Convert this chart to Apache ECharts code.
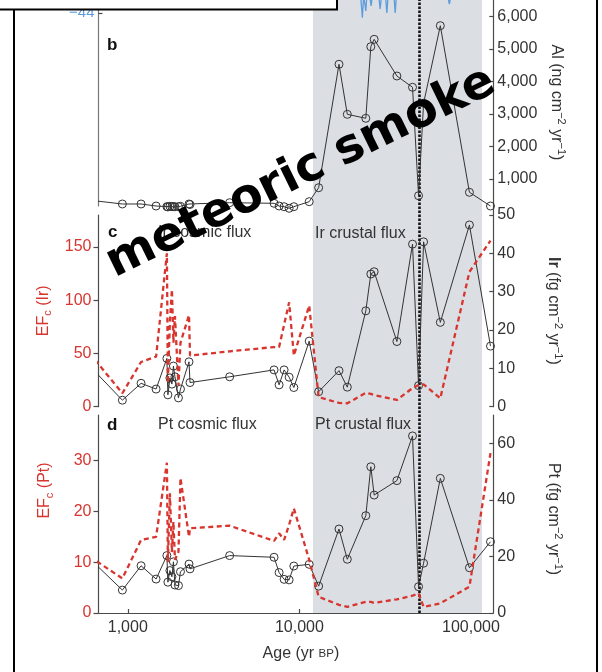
<!DOCTYPE html>
<html>
<head>
<meta charset="utf-8">
<script src="https://cdn.jsdelivr.net/npm/echarts@6/dist/echarts.min.js"></script>
<style>
  html, body { margin: 0; padding: 0; background: #fff; }
  #chart { width: 602px; height: 672px; }
</style>
</head>
<body>
<div id="chart"></div>
<script>
// Sample ages (yr BP) shared by the Al, Ir and Pt records
const ages = [600, 930, 1195, 1462, 1690, 1713, 1760, 1808, 1845, 1883, 1974, 2028, 2274, 2305,
  3924, 7121, 7619, 8150, 8718, 9286, 11410, 12951, 17020, 19030, 24390, 26090, 27280,
  37020, 45660, 49510, 52970, 66310, 98000, 130000];

// Al flux (ng cm-2 yr-1)
const alFlux = [348, 231, 231, 169, 150, 140, 160, 150, 155, 145, 150, 160, 231, 215,
  271, 252, 169, 148, 98, 148, 302, 732, 4530, 2990, 2868, 5071, 5298,
  4169, 3822, 486, 3330, 5717, 591, 169];

// Ir flux (fg cm-2 yr-1) and its crustal enrichment factor
const irFlux = [10.6, 1.7, 6.1, 4.6, 12.6, 3.1, 7.5, 5.9, 10.6, 7.8, 2.3, 4.6, 11.7, 6.3,
  7.8, 9.6, 5.7, 9.6, 7.7, 5.0, 17.1, 3.9, 9.4, 5.1, 25.0, 34.6, 35.2,
  17.0, 42.4, 5.5, 43.0, 22.0, 47.4, 15.8];
const irEF = [50, 12.6, 42, 47, 144, 22, 80, 110, 60, 85, 20, 60, 86, 48,
  52, 56, 56, 77, 98, 48, 95, 9, 3.5, 3.2, 13.1, 12, 11,
  6.3, 17.5, 20.3, 21, 7.9, 126.6, 156];

// Pt flux (fg cm-2 yr-1) and its crustal enrichment factor
const ptFlux = [19.2, 8.1, 16.7, 12.0, 20.3, 10.9, 15.0, 12.8, 18.1, 9.9, 9.7, 14.6, 17.3, 15.6,
  20.3, 19.7, 14.3, 11.9, 11.7, 16.6, 17.2, 9.5, 29.7, 19.0, 34.4, 51.7, 41.7,
  46.8, 62.6, 9.3, 17.6, 47.6, 16.0, 25.2];
const ptEF = [11.1, 6.8, 14.4, 15.0, 29.6, 10, 23.6, 12, 18, 10.5, 12, 26.6, 15.0, 16.7,
  17.2, 14.2, 15.7, 14.4, 17.4, 20.6, 10.5, 3.2, 1.6, 1.2, 2.2, 2.2, 2.0,
  2.7, 3.4, 3.9, 1.2, 1.9, 5.2, 31.5];

// Lower tail of the δ18O record above (per mil)
const d18oAges = [22600, 23290, 23700, 24050, 24390, 24800, 25600, 26190, 26800,
  28900, 29570, 30300, 31700, 32360, 33000, 35500, 36190, 36900, 72800, 74860, 76800];
const d18oValues = [-41.0, -44.6, -41.8, -41.9, -43.75, -41.5, -41.6, -43.1, -41.4,
  -41.5, -43.5, -41.3, -41.6, -44.0, -41.4, -41.5, -44.0, -41.4, -41.6, -42.9, -41.6];

// Glacial interval shading and the marker age
const glacialBand = [12000, 116000];
const markerAge = 50000;

// Tick values
const ageTicks = [1000, 10000, 100000];
const d18oTicks = [-44];
const alTicks = [1000, 2000, 3000, 4000, 5000, 6000];
const irEFTicks = [0, 50, 100, 150];
const irTicks = [0, 10, 20, 30, 40, 50];
const ptEFTicks = [0, 10, 20, 30];
const ptTicks = [0, 20, 40, 60];

const FONT = '"Liberation Sans", Arial, Helvetica, sans-serif';
const INK = '#333333';
const RED = '#d8352f';
const AXIS = '#4a4a4a';
const BLUE = '#5d9ddd';
const fmt = v => Number(v).toLocaleString('en-US');

const PLOT_LEFT = 98.5;
const PLOT_WIDTH = 394.8;
const AGE_MIN = 675;
const AGE_MAX = 135000;

function richSet(color) {
  return {
    n: { fontSize: 16, lineHeight: 20, verticalAlign: 'middle', fontFamily: FONT, color: color },
    nb: { fontSize: 16, lineHeight: 20, verticalAlign: 'middle', fontFamily: FONT, color: color, fontWeight: 'bold' },
    sup: { fontSize: 11, lineHeight: 11, verticalAlign: 'top', fontFamily: FONT, color: color },
    sub: { fontSize: 11, lineHeight: 11, verticalAlign: 'bottom', fontFamily: FONT, color: color },
    sc: { fontSize: 11.5, lineHeight: 20, verticalAlign: 'middle', fontFamily: FONT, color: color }
  };
}

function ageAxis(gridIndex, visible) {
  const ax = {
    type: 'log', logBase: 10, gridIndex: gridIndex, min: AGE_MIN, max: AGE_MAX,
    show: visible, splitLine: { show: false }
  };
  if (visible) {
    Object.assign(ax, {
      axisLine: { show: true, lineStyle: { color: AXIS, width: 1.2 } },
      axisTick: { show: true, inside: true, length: 4, customValues: ageTicks, lineStyle: { color: AXIS, width: 1.2 } },
      axisLabel: { customValues: ageTicks, formatter: fmt, fontSize: 16, fontFamily: FONT, color: INK, margin: 7 },
      name: '{n|Age (yr }{sc|BP}{n|)}',
      nameLocation: 'middle', nameGap: 31,
      nameTextStyle: { rich: richSet(INK), padding: [0, 0, 0, 10] }
    });
  }
  return ax;
}

function valueAxis(gridIndex, position, min, max, ticks, color, tickInside, extra) {
  return Object.assign({
    type: 'value', gridIndex: gridIndex, position: position, min: min, max: max,
    splitLine: { show: false },
    axisLine: { show: true, lineStyle: { color: AXIS, width: 1.2 } },
    axisTick: { show: true, inside: tickInside, length: tickInside ? 4 : 5, customValues: ticks,
      lineStyle: { color: AXIS, width: 1.2 } },
    axisLabel: { customValues: ticks, formatter: fmt, fontSize: 16, fontFamily: FONT, color: color,
      margin: tickInside ? 4 : 7 }
  }, extra || {});
}

const pts = vals => ages.map((a, i) => [a, vals[i]]);

const blackLine = {
  type: 'line', symbol: 'circle', symbolSize: 8, showSymbol: true,
  lineStyle: { color: '#333', width: 1 },
  itemStyle: { color: 'rgba(0,0,0,0)', borderColor: '#333', borderWidth: 1 },
  clip: true, z: 5, silent: true, animation: false
};
const redLine = {
  type: 'line', symbol: 'none', showSymbol: false,
  lineStyle: { color: RED, width: 2.3, type: [5, 3.5] },
  clip: true, z: 6, silent: true, animation: false
};

const option = {
  animation: false,
  backgroundColor: '#ffffff',
  grid: [
    { left: PLOT_LEFT, width: PLOT_WIDTH, top: 0, height: 206 },      // δ18O tail
    { left: PLOT_LEFT, width: PLOT_WIDTH, top: 0, height: 215 },      // Al
    { left: PLOT_LEFT, width: PLOT_WIDTH, top: 215, height: 191.7 },  // Ir
    { left: PLOT_LEFT, width: PLOT_WIDTH, top: 415, height: 198 },    // Pt
    { left: PLOT_LEFT, width: PLOT_WIDTH, top: 0, height: 613 }       // shading + marker
  ],
  xAxis: [ageAxis(0, false), ageAxis(1, false), ageAxis(2, false), ageAxis(3, true), ageAxis(4, false)],
  yAxis: [
    valueAxis(0, 'left', -68.125, -42.375, d18oTicks, BLUE, true, {
      axisLine: { show: true, lineStyle: { color: '#777', width: 1.2 } },
      axisLabel: { customValues: d18oTicks, formatter: v => '\u2212' + Math.abs(v), fontSize: 15,
        fontFamily: FONT, color: BLUE, margin: 4 }
    }),
    valueAxis(1, 'right', -107.7, 6507.7, alTicks, INK, true, {
      name: '{n|Al (ng cm}{sup|\u22122}{n| yr}{sup|\u22121}{n|)}',
      nameLocation: 'middle', nameRotate: -90, nameGap: 50,
      nameTextStyle: { rich: richSet(INK), padding: [0, 10, 0, 0] }
    }),
    valueAxis(2, 'left', 0, 180, irEFTicks, RED, false, {
      name: '{n|EF}{sub|c}{n| (Ir)}',
      nameLocation: 'middle', nameRotate: 90, nameGap: 43.5,
      nameTextStyle: { rich: richSet(RED) }
    }),
    valueAxis(2, 'right', 0, 50, irTicks, INK, true, {
      name: '{nb|Ir}{n| (fg cm}{sup|\u22122}{n| yr}{sup|\u22121}{n|)}',
      nameLocation: 'middle', nameRotate: -90, nameGap: 50,
      nameTextStyle: { rich: richSet(INK) }
    }),
    valueAxis(3, 'left', 0, 39, ptEFTicks, RED, false, {
      name: '{n|EF}{sub|c}{n| (Pt)}',
      nameLocation: 'middle', nameRotate: 90, nameGap: 43.5,
      nameTextStyle: { rich: richSet(RED), padding: [0, 0, 0, 47] }
    }),
    valueAxis(3, 'right', 0, 70, ptTicks, INK, true, {
      name: '{n|Pt (fg cm}{sup|\u22122}{n| yr}{sup|\u22121}{n|)}',
      nameLocation: 'middle', nameRotate: -90, nameGap: 50,
      nameTextStyle: { rich: richSet(INK), padding: [0, 0, 0, 10] }
    }),
    { type: 'value', gridIndex: 4, min: 0, max: 1, show: false }
  ],
  series: [
    {
      type: 'line', xAxisIndex: 4, yAxisIndex: 6, data: [[AGE_MIN, 0]],
      symbol: 'none', lineStyle: { opacity: 0 }, z: 0, silent: true,
      markArea: {
        silent: true,
        itemStyle: { color: 'rgb(219,222,227)' },
        data: [[{ xAxis: glacialBand[0] }, { xAxis: glacialBand[1] }]]
      }
    },
    Object.assign({}, blackLine, { xAxisIndex: 1, yAxisIndex: 1, data: pts(alFlux) }),
    Object.assign({}, blackLine, { xAxisIndex: 2, yAxisIndex: 3, data: pts(irFlux) }),
    Object.assign({}, redLine, { xAxisIndex: 2, yAxisIndex: 2, data: pts(irEF) }),
    Object.assign({}, blackLine, { xAxisIndex: 3, yAxisIndex: 5, data: pts(ptFlux) }),
    Object.assign({}, redLine, { xAxisIndex: 3, yAxisIndex: 4, data: pts(ptEF) }),
    {
      type: 'line', xAxisIndex: 0, yAxisIndex: 0,
      data: d18oAges.map((a, i) => [a, d18oValues[i]]),
      symbol: 'none', lineStyle: { color: BLUE, width: 1.3 }, clip: true, z: 4, silent: true
    },
    {
      type: 'line', xAxisIndex: 4, yAxisIndex: 6, data: [[AGE_MIN, 0]],
      symbol: 'none', lineStyle: { opacity: 0 }, z: 20, silent: true,
      markLine: {
        silent: true, symbol: ['none', 'none'], label: { show: false },
        lineStyle: { color: '#111', width: 2.6, type: [2.4, 1.6] },
        data: [{ xAxis: markerAge }]
      }
    }
  ],
  graphic: [
    { type: 'line', z: 100, shape: { x1: 14, y1: 8, x2: 14, y2: 690 }, style: { stroke: '#000', lineWidth: 2 } },
    { type: 'line', z: 100, shape: { x1: 597, y1: -5, x2: 597, y2: 690 }, style: { stroke: '#000', lineWidth: 2 } },
    { type: 'rect', z: 101, shape: { x: -4, y: -4, width: 341, height: 13.5 },
      style: { fill: '#fff', stroke: '#000', lineWidth: 2 } },
    { type: 'text', z: 100, x: 107, y: 45, style: { text: 'b', fontSize: 17, fontWeight: 'bold', fontFamily: FONT, fill: '#111', align: 'left', verticalAlign: 'middle' } },
    { type: 'text', z: 100, x: 108, y: 232, style: { text: 'c', fontSize: 17, fontWeight: 'bold', fontFamily: FONT, fill: '#111', align: 'left', verticalAlign: 'middle' } },
    { type: 'text', z: 100, x: 107, y: 425, style: { text: 'd', fontSize: 17, fontWeight: 'bold', fontFamily: FONT, fill: '#111', align: 'left', verticalAlign: 'middle' } },
    { type: 'text', z: 100, x: 158, y: 233, style: { text: 'Ir cosmic flux', fontSize: 16, fontFamily: FONT, fill: INK, align: 'left', verticalAlign: 'middle' } },
    { type: 'text', z: 100, x: 315, y: 233.5, style: { text: 'Ir crustal flux', fontSize: 16, fontFamily: FONT, fill: INK, align: 'left', verticalAlign: 'middle' } },
    { type: 'text', z: 100, x: 158, y: 424.5, style: { text: 'Pt cosmic flux', fontSize: 16, fontFamily: FONT, fill: INK, align: 'left', verticalAlign: 'middle' } },
    { type: 'text', z: 100, x: 315, y: 424.5, style: { text: 'Pt crustal flux', fontSize: 16, fontFamily: FONT, fill: INK, align: 'left', verticalAlign: 'middle' } },
    { type: 'text', z: 110, x: 301, y: 173, rotation: 26 * Math.PI / 180,
      style: { text: 'meteoric smoke', fontSize: 47.5, fontWeight: 'bold', fontFamily: '"DejaVu Sans", Verdana, sans-serif',
        fill: '#000', align: 'center', verticalAlign: 'middle' } }
  ]
};

const chart = echarts.init(document.getElementById('chart'), null, { renderer: 'canvas' });
chart.setOption(option);
</script>
</body>
</html>
